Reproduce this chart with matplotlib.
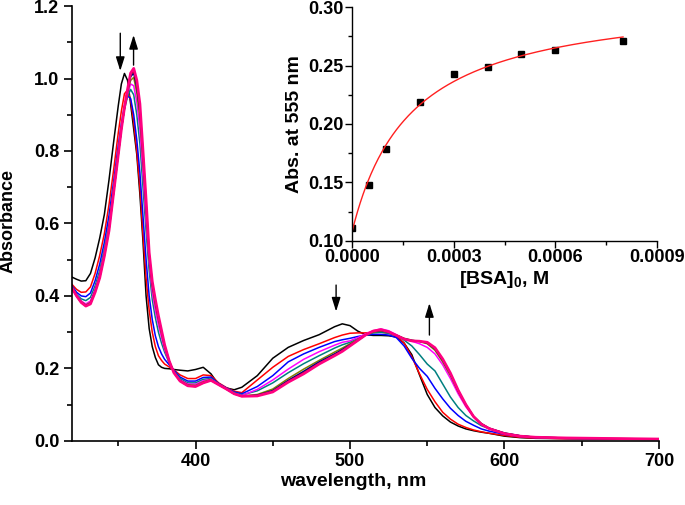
import numpy as np
import matplotlib
matplotlib.use("Agg")
import matplotlib.pyplot as plt
from matplotlib.ticker import MultipleLocator, FormatStrFormatter

plt.rcParams['font.family'] = ['Liberation Sans', 'DejaVu Sans']
plt.rcParams['font.weight'] = 'bold'
plt.rcParams['mathtext.fontset'] = 'custom'
plt.rcParams['mathtext.bf'] = 'Liberation Sans:bold'
plt.rcParams['mathtext.rm'] = 'Liberation Sans:bold'

# ---------------- data ----------------
wavelength = [320, 323, 326, 329, 332, 335, 338, 341, 344, 347, 350, 352, 354, 356, 358, 360,
              362, 364, 366, 368, 370, 372, 374, 376, 378, 380, 383, 386, 390, 395, 400, 405,
              410, 415, 420, 425, 430, 440, 450, 460, 470, 480, 490, 495, 500, 505, 510, 515,
              520, 525, 530, 535, 540, 545, 550, 555, 560, 565, 570, 575, 580, 585, 590, 600,
              610, 620, 640, 660, 680, 700]

abs_black = [.452, .446, .441, .442, .462, .505, .560, .625, .720, .825, .925, .985, 1.014, .995, .930, .860,
             .790, .680, .550, .400, .310, .260, .230, .210, .203, .200, .199, .197, .195, .193, .197, .203,
             .185, .155, .146, .141, .148, .180, .228, .258, .277, .293, .315, .323, .318, .303, .293, .291,
             .291, .290, .287, .270, .238, .182, .128, .092, .069, .052, .041, .033, .028, .024, .021, .013,
             .009, .007, .006, .005, .005, .005]
abs_red = [.432, .418, .410, .411, .425, .462, .512, .572, .652, .748, .850, .910, .958, .968, .940, .880,
           .800, .700, .570, .450, .360, .300, .260, .235, .222, .212, .204, .196, .182, .172, .172, .182,
           .180, .160, .147, .137, .133, .168, .203, .233, .252, .268, .285, .292, .297, .298, .298, .300,
           .300, .297, .290, .270, .232, .185, .142, .108, .079, .060, .046, .037, .030, .025, .021, .015,
           .010, .008, .006, .005, .005, .005]
abs_blue = [.428, .410, .400, .398, .408, .442, .488, .548, .622, .715, .815, .875, .925, .952, .945, .900,
            .830, .740, .620, .500, .400, .335, .290, .260, .240, .225, .210, .195, .176, .165, .165, .175,
            .176, .158, .146, .135, .130, .150, .180, .218, .240, .258, .274, .279, .283, .288, .292, .294,
            .294, .292, .285, .262, .228, .200, .178, .145, .116, .090, .070, .054, .043, .033, .027, .018,
            .012, .009, .007, .006, .005, .005]
abs_teal = [.425, .404, .392, .387, .396, .428, .470, .530, .600, .700, .800, .865, .915, .950, .970, .955,
            .900, .820, .700, .580, .470, .390, .340, .300, .270, .245, .215, .192, .172, .160, .160, .170,
            .172, .157, .145, .133, .127, .138, .160, .188, .213, .235, .256, .265, .272, .283, .292, .298,
            .300, .297, .290, .278, .262, .238, .212, .193, .157, .121, .092, .070, .055, .042, .034, .022,
            .014, .010, .007, .006, .005, .005]
abs_magenta = [.424, .402, .386, .378, .386, .418, .460, .520, .592, .692, .795, .862, .918, .958, .985, .980,
               .935, .860, .740, .610, .495, .410, .360, .320, .285, .252, .218, .190, .168, .157, .156, .166,
               .170, .156, .144, .131, .125, .142, .168, .198, .225, .246, .264, .272, .276, .285, .295, .304,
               .309, .304, .293, .282, .275, .268, .258, .240, .210, .172, .130, .094, .066, .047, .035, .021,
               .014, .010, .008, .006, .005, .005]
abs_olive = [.423, .401, .384, .375, .382, .414, .455, .515, .586, .688, .792, .861, .918, .962, .995, 1.003,
             .960, .890, .770, .635, .505, .425, .375, .333, .295, .258, .219, .189, .166, .155, .153, .163,
             .169, .155, .143, .130, .124, .128, .143, .172, .198, .222, .245, .256, .268, .280, .292, .300,
             .303, .300, .292, .283, .278, .274, .268, .250, .218, .180, .136, .098, .068, .048, .035, .021,
             .014, .010, .008, .006, .005, .005]
abs_navy = [.423, .400, .383, .373, .380, .412, .452, .512, .583, .686, .791, .860, .919, .966, 1.005, 1.015,
            .975, .910, .785, .650, .512, .432, .382, .338, .300, .262, .220, .189, .166, .153, .151, .161,
            .168, .155, .143, .130, .123, .126, .139, .167, .192, .218, .240, .252, .265, .278, .292, .302,
            .305, .300, .291, .282, .277, .275, .270, .254, .222, .184, .138, .099, .067, .047, .035, .021,
            .014, .010, .008, .006, .005, .005]
abs_wine = [.422, .400, .382, .372, .379, .411, .451, .511, .581, .685, .790, .860, .920, .968, 1.010, 1.022,
            .985, .920, .795, .660, .516, .437, .386, .342, .303, .264, .220, .188, .165, .152, .150, .160,
            .167, .155, .143, .130, .123, .125, .137, .164, .188, .214, .237, .249, .263, .277, .292, .303,
            .306, .301, .291, .281, .276, .275, .271, .256, .224, .186, .139, .100, .067, .046, .034, .020,
            .013, .010, .008, .007, .006, .005]
abs_pink = [.422, .400, .382, .372, .378, .410, .450, .510, .580, .685, .790, .860, .920, .970, 1.015, 1.028,
            .995, .930, .800, .665, .520, .440, .390, .345, .305, .265, .220, .188, .165, .152, .150, .160,
            .167, .155, .143, .130, .123, .124, .135, .162, .185, .212, .235, .247, .262, .277, .292, .303,
            .307, .301, .291, .281, .276, .275, .272, .257, .226, .187, .140, .100, .067, .046, .034, .020,
            .013, .010, .008, .007, .006, .005]

spectra = [abs_black, abs_red, abs_blue, abs_teal, abs_magenta, abs_olive, abs_navy, abs_wine, abs_pink]
colors = ['#000000', '#ff0000', '#0000ff', '#008080', '#ff00ff', '#808000', '#000080', '#800000', '#ff0080']
widths = [1.1, 1.1, 1.1, 1.1, 1.1, 1.1, 1.1, 1.1, 2.0]

bsa_conc = [0.0, 0.00005, 0.0001, 0.0002, 0.0003, 0.0004, 0.0005, 0.0006, 0.0008]
abs555 = [0.111, 0.148, 0.179, 0.219, 0.243, 0.249, 0.260, 0.263, 0.271]

# ---------------- figure ----------------
fig = plt.figure(figsize=(6.85, 5.05), dpi=100)
ax = fig.add_axes([0.105, 0.127, 0.857, 0.861])

for y, c, lw in zip(spectra, colors, widths):
    ax.plot(wavelength, y, color=c, lw=lw)

ax.set_xlim(320, 700)
ax.set_ylim(0, 1.2)
ax.xaxis.set_major_locator(MultipleLocator(100))
ax.xaxis.set_minor_locator(MultipleLocator(50))
ax.yaxis.set_major_locator(MultipleLocator(0.2))
ax.yaxis.set_minor_locator(MultipleLocator(0.1))
ax.yaxis.set_major_formatter(FormatStrFormatter('%.1f'))
for s in ['top', 'right']:
    ax.spines[s].set_visible(False)
for s in ['left', 'bottom']:
    ax.spines[s].set_linewidth(1.2)
ax.tick_params(which='major', direction='out', length=6, width=1.2, labelsize=13, pad=3)
ax.tick_params(which='minor', direction='out', length=3.5, width=1.2)
ax.set_xlabel('wavelength, nm', fontsize=14, fontweight='bold')
ax.set_ylabel('Absorbance', fontsize=13, fontweight='bold')
ax.xaxis.set_label_coords(0.48, -0.075)
ax.yaxis.set_label_coords(-0.095, 0.505)

arr = dict(arrowstyle='-|>,head_length=0.7,head_width=0.22', color='k', lw=1.0,
           mutation_scale=12, shrinkA=0, shrinkB=0)
ax.annotate('', xy=(351.3, 1.021), xytext=(351.3, 1.125), arrowprops=arr)
ax.annotate('', xy=(359.9, 1.12), xytext=(359.9, 1.037), arrowprops=arr)
ax.annotate('', xy=(491.0, 0.357), xytext=(491.0, 0.43), arrowprops=arr)
ax.annotate('', xy=(551.4, 0.38), xytext=(551.4, 0.292), arrowprops=arr)

# ---------------- inset ----------------
ins = fig.add_axes([0.514, 0.523, 0.445, 0.463])
ins.plot(bsa_conc, abs555, 's', color='k', ms=4.5)

# hyperbolic binding fit (least squares) to the measured points
xc = np.array(bsa_conc)
yc = np.array(abs555)
best = None
for K in np.linspace(2e-5, 1e-3, 2000):
    M = np.column_stack([np.ones_like(xc), xc / (K + xc)])
    coef, *_ = np.linalg.lstsq(M, yc, rcond=None)
    r = np.sum((M @ coef - yc) ** 2)
    if best is None or r < best[0]:
        best = (r, K, coef)
_, Kfit, (y0, A) = best
xf = np.linspace(0, 0.0008, 300)
ins.plot(xf, y0 + A * xf / (Kfit + xf), color='#ff2020', lw=1.0)

ins.set_xlim(0, 0.0009)
ins.set_ylim(0.10, 0.30)
ins.xaxis.set_major_locator(MultipleLocator(0.0003))
ins.xaxis.set_minor_locator(MultipleLocator(0.00015))
ins.yaxis.set_major_locator(MultipleLocator(0.05))
ins.yaxis.set_minor_locator(MultipleLocator(0.025))
ins.xaxis.set_major_formatter(FormatStrFormatter('%.4f'))
ins.yaxis.set_major_formatter(FormatStrFormatter('%.2f'))
for s in ['top', 'right']:
    ins.spines[s].set_visible(False)
for s in ['left', 'bottom']:
    ins.spines[s].set_linewidth(1.0)
ins.tick_params(which='major', direction='out', length=5, width=1.0, labelsize=13, pad=1)
ins.tick_params(which='minor', direction='out', length=3, width=1.0)
ins.set_xlabel('[BSA]$_\\mathbf{0}$, M', fontsize=14, fontweight='bold', labelpad=2)
ins.set_ylabel('Abs. at 555 nm', fontsize=14, fontweight='bold', labelpad=4)
ins.patch.set_alpha(0)

fig.savefig('out.png', dpi=100)
